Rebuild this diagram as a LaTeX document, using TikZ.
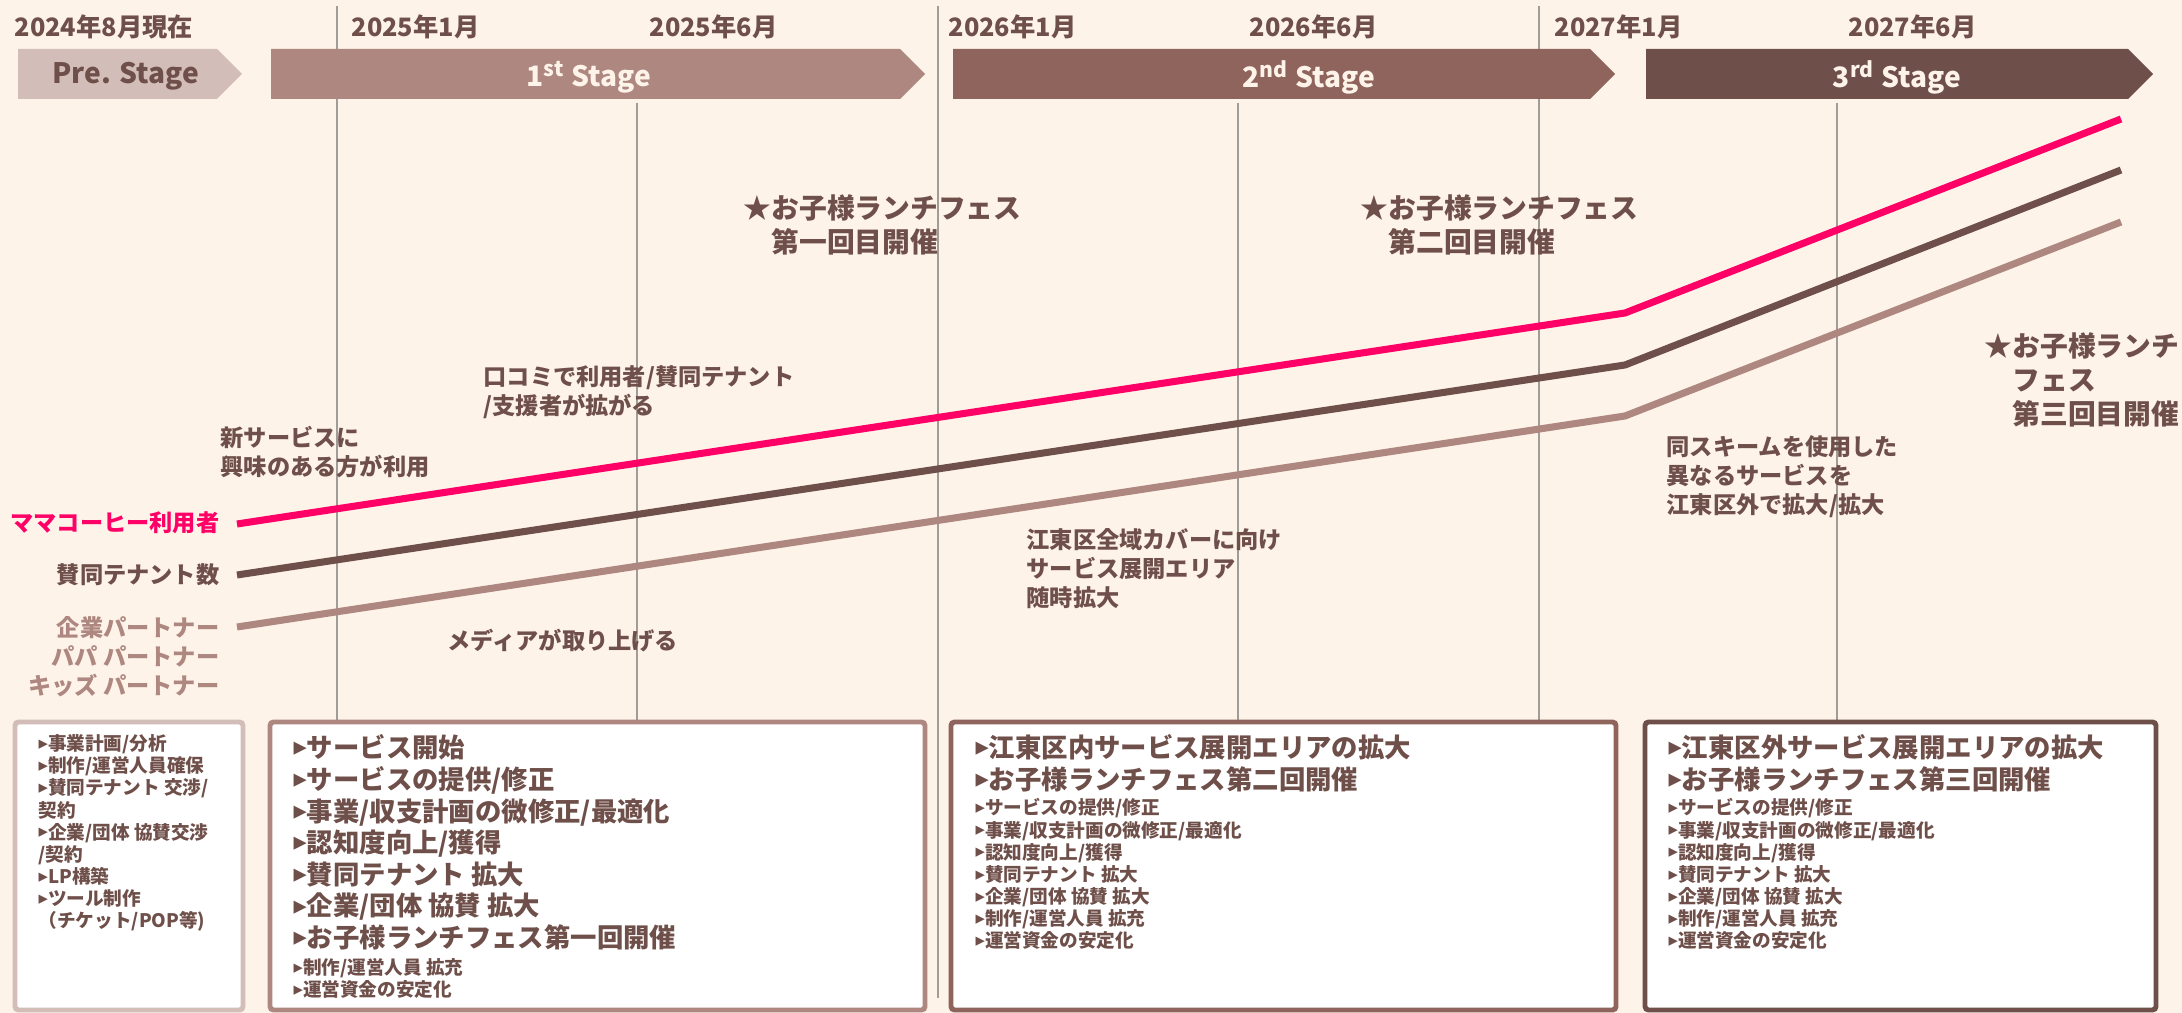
\documentclass[tikz,border=0pt]{standalone}
\usepackage{fontspec}
\setmainfont{Noto Sans CJK JP}
\newfontfamily\symfont{DejaVu Sans}
\usetikzlibrary{positioning}
\definecolor{bgcream}{HTML}{FDF3E8}
\definecolor{txtbrown}{HTML}{6F4F49}
\definecolor{stpre}{HTML}{D3BDB8}
\definecolor{stone}{HTML}{AD8780}
\definecolor{sttwo}{HTML}{8F645D}
\definecolor{stthree}{HTML}{6F4F49}
\definecolor{mamapink}{HTML}{FF0066}
\definecolor{gridgray}{HTML}{A09C98}
\newcommand\fsz[2]{\fontsize{#1}{#2}\selectfont\bfseries}
\newcommand\itemtri{{\symfont\raisebox{0.07em}{▸}}}
\begin{document}
\begin{tikzpicture}[x=0.01cm,y=-0.01cm,
  every node/.style={inner sep=0pt,text=txtbrown},
  datelbl/.style={anchor=west,font=\fsz{7.2}{8}},
  stagelbl/.style={font=\fsz{8}{9},text=bgcream},
  note/.style={anchor=north west,align=left,font=\fsz{6.6}{8.2}},
  fes/.style={anchor=north west,align=left,font=\fsz{7.9}{9.7}},
  bigitem/.style={anchor=north west,align=left,font=\fsz{7.5}{9}},
  smallitem/.style={anchor=north west,align=left,font=\fsz{5.3}{6.3}},
  gridline/.style={draw=gridgray,line width=0.4pt},
  trend/.style={line width=2pt,line join=round},
  stagebox/.style={line width=1.4pt,fill=white,rounded corners=1pt}
]
\fill[bgcream] (0,0) rectangle (2182,1013);
\useasboundingbox (0,0) rectangle (2182,1013);

\draw[gridline] (337,6) -- (337,720);
\draw[gridline] (637,103) -- (637,720);
\draw[gridline] (938,6) -- (938,998);
\draw[gridline] (1238,103) -- (1238,720);
\draw[gridline] (1539,6) -- (1539,720);
\draw[gridline] (1837,103) -- (1837,720);

\node[datelbl] (d0) at (14,27) {2024年8月現在};
\node[datelbl] (d1) at (351,27) {2025年1月};
\node[datelbl] (d2) at (649,27) {2025年6月};
\node[datelbl] (d3) at (948,27) {2026年1月};
\node[datelbl] (d4) at (1249,27) {2026年6月};
\node[datelbl] (d5) at (1554,27) {2027年1月};
\node[datelbl] (d6) at (1848,27) {2027年6月};

\foreach \xa/\xb/\col in {18/217/stpre, 271/900/stone, 953/1590/sttwo, 1646/2128/stthree}
  \fill[\col] (\xa,49) -- (\xb,49) -- (\xb+25,74) -- (\xb,99) -- (\xa,99) -- cycle;
\node[stagelbl,text=txtbrown] (stg0) at (126,76) {Pre. Stage};
\node[stagelbl] (stg1) at (589,77) {1\textsuperscript{st} Stage};
\node[stagelbl] (stg2) at (1309,77) {2\textsuperscript{nd} Stage};
\node[stagelbl] (stg3) at (1897,77) {3\textsuperscript{rd} Stage};

\draw[stagebox,draw=stpre] (15,722) rectangle (243,1010);
\draw[stagebox,draw=stone] (270,722) rectangle (925,1010);
\draw[stagebox,draw=sttwo] (951,722) rectangle (1616,1010);
\draw[stagebox,draw=stthree] (1645,722) rectangle (2156,1010);

\node[smallitem] (prelist) at (38,734) {\itemtri{}事業計画/分析\\\itemtri{}制作/運営人員確保\\\itemtri{}賛同テナント 交渉/\\契約\\\itemtri{}企業/団体 協賛交渉\\/契約\\\itemtri{}LP構築\\\itemtri{}ツール制作\\（チケット/POP等)};
\node[bigitem] (onebig) at (293,734) {\itemtri{}サービス開始\\\itemtri{}サービスの提供/修正\\\itemtri{}事業/収支計画の微修正/最適化\\\itemtri{}認知度向上/獲得\\\itemtri{}賛同テナント 拡大\\\itemtri{}企業/団体 協賛 拡大\\\itemtri{}お子様ランチフェス第一回開催};
\node[smallitem] (onesmall) at (293,958) {\itemtri{}制作/運営人員 拡充\\\itemtri{}運営資金の安定化};
\node[bigitem] (twobig) at (975,734) {\itemtri{}江東区内サービス展開エリアの拡大\\\itemtri{}お子様ランチフェス第二回開催};
\node[smallitem] (twosmall) at (975,798) {\itemtri{}サービスの提供/修正\\\itemtri{}事業/収支計画の微修正/最適化\\\itemtri{}認知度向上/獲得\\\itemtri{}賛同テナント 拡大\\\itemtri{}企業/団体 協賛 拡大\\\itemtri{}制作/運営人員 拡充\\\itemtri{}運営資金の安定化};
\node[bigitem] (threebig) at (1668,734) {\itemtri{}江東区外サービス展開エリアの拡大\\\itemtri{}お子様ランチフェス第三回開催};
\node[smallitem] (threesmall) at (1668,798) {\itemtri{}サービスの提供/修正\\\itemtri{}事業/収支計画の微修正/最適化\\\itemtri{}認知度向上/獲得\\\itemtri{}賛同テナント 拡大\\\itemtri{}企業/団体 協賛 拡大\\\itemtri{}制作/運営人員 拡充\\\itemtri{}運営資金の安定化};

\coordinate (m0) at (237,524);
\coordinate (m1) at (1625,313);
\coordinate (m2) at (2121,119);
\coordinate (t0) at (237,575);
\coordinate (t1) at (1625,365);
\coordinate (t2) at (2121,170);
\coordinate (p0) at (237,627);
\coordinate (p1) at (1625,416);
\coordinate (p2) at (2121,222);
\draw[trend,stone] (p0) -- (p1) -- (p2);
\draw[trend,stthree] (t0) -- (t1) -- (t2);
\draw[trend,mamapink] (m0) -- (m1) -- (m2);

\node[note,anchor=east,text=mamapink] (lgmama) at (220,523) {ママコーヒー利用者};
\node[note,anchor=east] (lgtenant) at (220,575) {賛同テナント数};
\node[note,anchor=north east,align=right,text=stone] (lgpartner) at (220,616) {企業パートナー\\パパ パートナー\\キッズ パートナー};

\node[note] (newsvc) at (220,426) {新サービスに\\興味のある方が利用};
\node[note] (kuchikomi) at (483,365) {口コミで利用者/賛同テナント\\/支援者が拡がる};
\node[note] (media) at (447,628) {メディアが取り上げる};
\node[note] (kotoall) at (1026,528) {江東区全域カバーに向け\\サービス展開エリア\\随時拡大};
\node[note] (scheme) at (1666,435) {同スキームを使用した\\異なるサービスを\\江東区外で拡大/拡大};

\node[fes] (fes1) at (743,194) {★お子様ランチフェス\\\phantom{★}第一回目開催};
\node[fes] (fes2) at (1360,194) {★お子様ランチフェス\\\phantom{★}第二回目開催};
\node[fes] (fes3) at (1984,332) {★お子様ランチ\\\phantom{★}フェス\\\phantom{★}第三回目開催};
\end{tikzpicture}
\end{document}
